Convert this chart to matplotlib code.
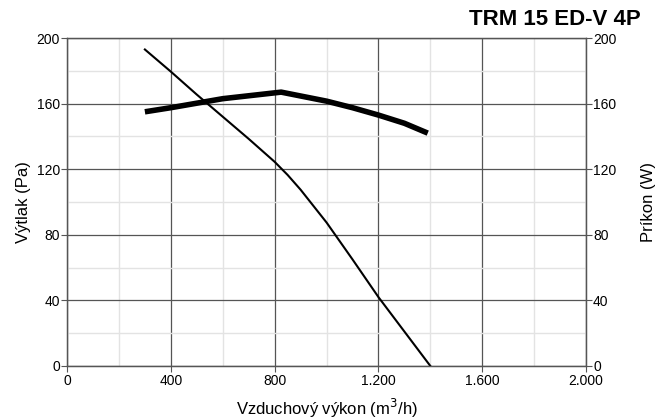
import matplotlib.pyplot as plt
from matplotlib.ticker import FuncFormatter, MultipleLocator

plt.rcParams['font.family'] = ['Liberation Sans', 'DejaVu Sans']

# air flow (m3/h) vs static pressure (Pa)
flow_p = [300, 400, 500, 600, 700, 750, 800, 850, 900, 1000, 1100, 1200, 1300, 1400]
pressure = [193, 179.5, 165.5, 152, 138.5, 131.5, 124.5, 116.5, 107.5, 87.5, 65, 42, 21, 0]

# air flow vs power input (W)
flow_w = [300, 400, 600, 825, 1000, 1100, 1200, 1300, 1390]
power = [155, 157.5, 163, 167, 161.5, 157.5, 153, 148, 142]

title = "TRM 15 ED-V 4P"
xlabel = "Vzduchový výkon (m$^3$/h)"
ylabel_left = "Výtlak (Pa)"
ylabel_right = "Príkon (W)"


def thousands(v, pos):
    return f"{int(v):,}".replace(",", ".")


fig = plt.figure(figsize=(6.65, 4.19), dpi=100)
ax = fig.add_axes([0.1008, 0.1265, 0.7805, 0.7828])
ax2 = ax.twinx()

ax.set_xlim(0, 2000)
ax.set_ylim(0, 200)
ax2.set_ylim(0, 200)

ax.xaxis.set_major_locator(MultipleLocator(400))
ax.xaxis.set_minor_locator(MultipleLocator(200))
ax.yaxis.set_major_locator(MultipleLocator(40))
ax.yaxis.set_minor_locator(MultipleLocator(20))
ax2.yaxis.set_major_locator(MultipleLocator(40))
ax.xaxis.set_major_formatter(FuncFormatter(thousands))

ax.grid(which='minor', color='#e3e3e3', lw=1)
ax.grid(which='major', color='#555555', lw=0.9)
ax.set_axisbelow(True)

ax.plot(flow_p, pressure, color='black', lw=1.5, zorder=3)
ax2.plot(flow_w, power, color='black', lw=4, solid_capstyle='butt', zorder=3)

for a in (ax, ax2):
    for s in a.spines.values():
        s.set_color('#555555')
        s.set_linewidth(0.9)
    a.tick_params(which='major', length=4, width=0.8, color='#555555',
                  labelsize=10, pad=1)
    a.tick_params(which='minor', length=0)
ax.tick_params(axis='x', pad=2)

ax.set_xlabel(xlabel, fontsize=12, labelpad=6)
ax.set_ylabel(ylabel_left, fontsize=12, labelpad=4)
ax2.set_ylabel(ylabel_right, fontsize=12, labelpad=18)

fig.text(0.963, 0.953, title, ha='right', va='center', fontsize=16,
         fontweight='bold')

fig.savefig("out.png", dpi=100)
